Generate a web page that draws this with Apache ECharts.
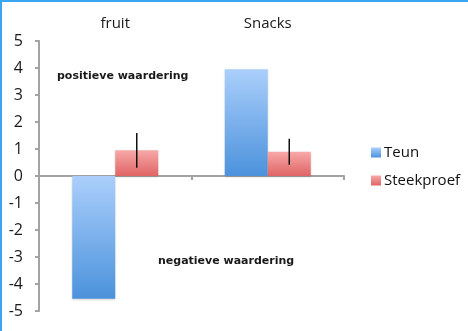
<!DOCTYPE html>
<html>
<head>
<meta charset="utf-8">
<script src="https://cdn.jsdelivr.net/npm/echarts@6/dist/echarts.min.js"></script>
<style>
html,body{margin:0;padding:0;background:#fff;}
#c{width:468px;height:331px;}
</style>
</head>
<body>
<div id="c"></div>
<script>
const categories = ['fruit', 'Snacks'];
const teun = [-4.55, 3.95];
const steekproef = [0.95, 0.9];
const steekproefError = [0.64, 0.48];
const yTicks = [-5, 5, 1];
const annotations = ['positieve waardering', 'negatieve waardering'];

const BAR_W = 43;
const chart = echarts.init(document.getElementById('c'), null, {renderer: 'canvas'});

function grad(c1, c2) {
  return new echarts.graphic.LinearGradient(0, 0, 0, 1, [
    {offset: 0, color: c1}, {offset: 1, color: c2}
  ], false);
}
const blueGrad = grad('#abcffb', '#4b92dc');
const redGrad = grad('#f7a8a8', '#e06464');

const errData = steekproef.map((v, i) => [i, v - steekproefError[i], v + steekproefError[i]]);

chart.setOption({
  animation: false,
  backgroundColor: '#fff',
  textStyle: {fontFamily: 'Open Sans'},
  grid: {left: 39, right: 124, top: 41, bottom: 20, containLabel: false},
  legend: {
    orient: 'vertical', left: 366, top: 140,
    itemWidth: 10, itemHeight: 10, itemGap: 13,
    icon: 'rect',
    data: ['Teun', 'Steekproef'],
    textStyle: {fontSize: 15, color: '#111', fontFamily: 'Open Sans', padding: [0,0,0,-2]}
  },
  xAxis: [{
    type: 'category', data: categories, position: 'bottom',
    axisLine: {onZero: true, lineStyle: {color: '#a3a3a3', width: 2}},
    axisTick: {show: true, length: 4, lineStyle: {color: '#a3a3a3', width: 2}},
    axisLabel: {show: false}
  }, {
    type: 'category', data: categories, position: 'top',
    axisLine: {show: false}, axisTick: {show: false},
    axisLabel: {show: true, margin: 10, fontSize: 15, color: '#1a1a1a'}
  }],
  yAxis: {
    type: 'value', min: yTicks[0], max: yTicks[1], interval: yTicks[2],
    splitLine: {show: false},
    axisLine: {show: true, lineStyle: {color: '#a3a3a3', width: 2}},
    axisTick: {show: true, length: 4, lineStyle: {color: '#a3a3a3', width: 2}},
    axisLabel: {fontSize: 16, color: '#1a1a1a', margin: 16}
  },
  graphic: [
    {type: 'rect', shape: {x: 0, y: 0, width: 2, height: 331}, style: {fill: '#3aa6f2'}, z: 100},
    {type: 'rect', shape: {x: 0, y: 0, width: 468, height: 2}, style: {fill: '#3aa6f2'}, z: 100},
    {type: 'text', left: 57, top: 71, style: {text: annotations[0], font: 'bold 11px "DejaVu Sans"', fill: '#1a1a1a'}, z: 50},
    {type: 'text', left: 158, top: 256, style: {text: annotations[1], font: 'bold 11px "DejaVu Sans"', fill: '#1a1a1a'}, z: 50}
  ],
  series: [{
    name: 'Teun', type: 'bar', data: teun, barWidth: BAR_W, barGap: '0%',
    itemStyle: {color: blueGrad, shadowColor: 'rgba(0,0,0,0.15)', shadowBlur: 2, shadowOffsetY: 1}
  }, {
    name: 'Steekproef', type: 'bar', data: steekproef, barWidth: BAR_W, barGap: '0%',
    itemStyle: {color: redGrad, shadowColor: 'rgba(0,0,0,0.15)', shadowBlur: 2, shadowOffsetY: 1}
  }, {
    name: 'err', type: 'custom', data: errData, z: 10,
    renderItem: function (params, api) {
      const lo = api.coord([api.value(0), api.value(1)]);
      const hi = api.coord([api.value(0), api.value(2)]);
      const x = lo[0] + BAR_W / 2;
      return {type: 'line', shape: {x1: x, y1: lo[1], x2: x, y2: hi[1]},
              style: {stroke: '#111', lineWidth: 1.5}};
    }
  }]
});
</script>
</body>
</html>
